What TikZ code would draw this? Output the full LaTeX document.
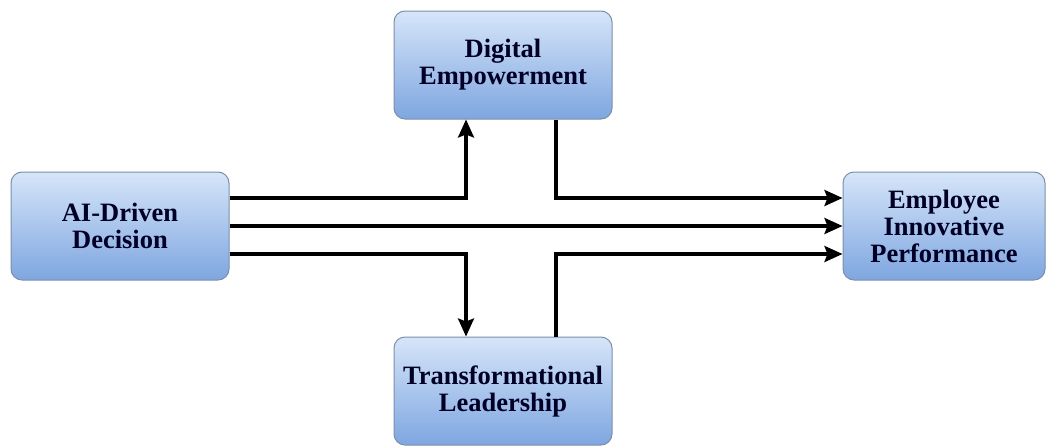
\documentclass[tikz,border=0pt]{standalone}
\usepackage{fontspec}
\setmainfont{Liberation Serif}
\usetikzlibrary{arrows.meta,calc}
\definecolor{boxtop}{HTML}{D6E5F9}
\definecolor{boxbot}{HTML}{7EA6E0}
\definecolor{boxline}{HTML}{7C8FA8}
\begin{document}
\begin{tikzpicture}[x=1pt,y=-1pt,
  blockbox/.style={draw=boxline, line width=1pt, rounded corners=11pt,
    top color=boxtop, bottom color=boxbot, align=center,
    font=\fontsize{26.5}{27}\selectfont\bfseries, text=black!85!blue,
    minimum width=218pt, minimum height=108pt, inner sep=1pt},
  link/.style={line width=3.3pt, -{Stealth[length=18pt,width=16pt,inset=3pt]}}]
  \useasboundingbox (0,0) rectangle (1050,447);
  \node[blockbox] (ai) at (120,226) {AI-Driven\\Decision};
  \node[blockbox] (de) at (503,65) {Digital\\Empowerment};
  \node[blockbox] (tl) at (503,391) {Transformational\\Leadership};
  \node[blockbox, minimum width=202pt] (ei) at (944,226) {Employee\\Innovative\\Performance};
  % routed connectors
  \draw[link] ([yshift=28pt]ai.east) -| ([xshift=-37pt]de.south);
  \draw[link] ([xshift=53pt]de.south) |- ([yshift=28pt]ei.west);
  \draw[link] (ai.east) -- (ei.west);
  \draw[link] ([yshift=-28pt]ai.east) -| ([xshift=-37pt]tl.north);
  \draw[link] ([xshift=53pt]tl.north) |- ([yshift=-28pt]ei.west);
\end{tikzpicture}
\end{document}
